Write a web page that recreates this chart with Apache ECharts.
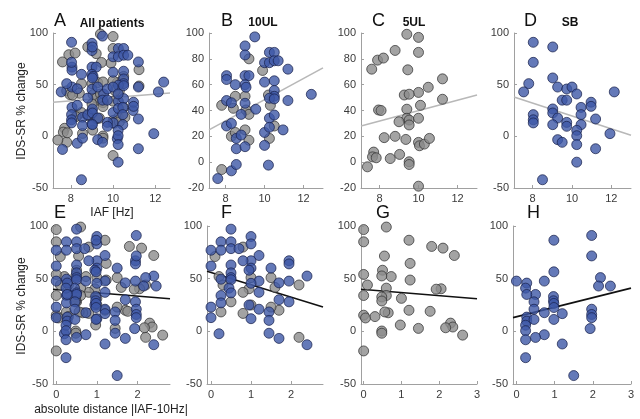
<!DOCTYPE html>
<html>
<head>
<meta charset="utf-8">
<script src="https://cdn.jsdelivr.net/npm/echarts@6/dist/echarts.min.js"></script>
<style>html,body{margin:0;padding:0;background:#fff}#c{width:640px;height:419px}</style>
</head>
<body>
<div id="c"></div>
<script>
// ---- data (IAF in Hz, IDS-SR % change) ----
const tenULBlue = [
  [9.5,97],[9.0,90],[9.0,83],[10.25,85],[10.5,85],[10.0,77],[10.25,77],[10.5,78.5],[10.7,78.5],[11.2,72],
  [8.05,67],[8.05,64],[9.0,67],[9.2,67],[8.5,60],[9.0,60],[9.05,58],[10.0,62],[10.5,63],[10.5,55.5],
  [10.5,51],[10.25,49.5],[10.5,49],[11.2,47.7],[12.4,52.5],[8.05,47.7],[8.3,46],[9.0,45.6],[9.55,41],[8.8,37],
  [10.25,34],[10.5,36.5],[8.05,28],[8.3,30],[8.55,18.4],[8.8,21],[8.55,10.4],[9.0,12],[10.0,23],[10.25,27],
  [10.95,25],[10.0,13],[8.3,-6.7],[8.55,-1.8],[10.2,-2.3],[7.6,-12.7]
];
const tenULGray = [
  [9.2,80],[9.9,71],[10.2,52],[7.8,44],[8.5,51],[8.4,41.7],[9.0,51],[9.05,40.4],[9.2,37],[10.3,44],
  [8.3,20],[8.5,23],[9.0,25],[9.2,17],[10.5,28],[10.25,18.4],[7.8,-5.7]
];
const fiveULGray = [
  [9.4,99],[10.0,96.6],[8.8,86.5],[10.0,85],[7.6,72],[7.9,79],[8.2,80.6],[9.45,71.5],[11.23,64.5],[10.5,58],
  [10.0,54],[9.27,52],[9.52,52.6],[11.23,48.7],[7.95,40.4],[8.08,40],[10.1,44],[9.4,41],[9.4,34],[9.52,32.6],
  [9.0,31.3],[9.52,28.8],[10.0,34],[8.24,19],[8.8,20],[9.35,17.6],[10.0,15.3],[10.05,12.7],[10.3,14],[10.56,18.4],
  [7.7,7.8],[7.64,4.1],[7.83,3.4],[8.55,2.8],[9.03,6],[9.52,0.3],[9.52,-1.8],[7.38,-3.6],[10.0,-18.6]
];
const sbBlue = [
  [8.03,91],[9.02,86.5],[8.03,71.6],[7.8,51],[7.54,43],[9.02,56.5],[9.27,47.7],[9.73,45.8],[10.0,47.7],[10.24,41],
  [12.15,43],[9.5,35],[9.73,35],[10.97,33],[10.97,29],[10.46,28],[9.02,26.5],[9.02,22.6],[8.03,21],[8.03,16],
  [8.03,13],[9.27,17.7],[10.46,21],[11.2,16.8],[9.73,13.5],[9.73,9.7],[9.02,11.3],[10.46,11.3],[10.24,5.8],[10.24,0.6],
  [11.93,2.6],[9.27,-3.2],[9.5,-5.8],[10.24,-8],[11.2,-12],[10.24,-25],[8.5,-42]
];
// regression lines (endpoints)
const trendA = [[7.15,33],[12.7,42]];
const trendB = [[7.15,25],[13,73]];
const trendC = [[7.05,28],[13,52]];
const trendD = [[7.05,38],[13,1]];
const trendE = [[-0.08,40],[2.8,31]];
const trendF = [[-0.1,57],[2.8,23]];
const trendG = [[-0.07,40],[3,31]];
const trendH = [[-0.09,13],[3,41]];
// tick labels
const iafTicks = [8,10,12];
const distTicksShort = [0,1,2];
const distTicksLong = [0,1,2,3];
const letters = ['A','B','C','D','E','F','G','H'];
const groupTitles = ['All patients','10UL','5UL','SB'];

// bottom row: absolute distance |IAF - 10 Hz| of the same patients
const dist = arr => arr.map(p => [Math.abs(p[0] - 10), p[1]]);

const BLUE = {color:'#3d58a6', borderColor:'#18204a', borderWidth:0.9};
const GRAY = {color:'#8c8c8c', borderColor:'#2e2e2e', borderWidth:0.9};

const panels = [
  {g:{left:53, top:33, width:117, height:155}, xmin:7.15, xmax:12.7, ymin:-50, ymax:100, yint:50, ticks:iafTicks,
   gray:[...tenULGray, ...fiveULGray], blue:[...tenULBlue, ...sbBlue], trend:trendA, lc:'#b8b8b8'},
  {g:{left:209, top:33, width:114, height:155}, xmin:7.15, xmax:13, ymin:-20, ymax:100, yint:20, ticks:iafTicks,
   gray:tenULGray, blue:tenULBlue, trend:trendB, lc:'#b8b8b8'},
  {g:{left:361, top:33, width:116, height:155}, xmin:7.05, xmax:13, ymin:-20, ymax:100, yint:20, ticks:iafTicks,
   gray:fiveULGray, blue:[], trend:trendC, lc:'#b8b8b8'},
  {g:{left:514, top:33, width:117, height:155}, xmin:7.05, xmax:13, ymin:-50, ymax:100, yint:50, ticks:iafTicks,
   gray:[], blue:sbBlue, trend:trendD, lc:'#b8b8b8'},
  {g:{left:53, top:226, width:117, height:158}, xmin:-0.08, xmax:2.8, ymin:-50, ymax:100, yint:50, ticks:distTicksShort,
   gray:dist([...tenULGray, ...fiveULGray]), blue:dist([...tenULBlue, ...sbBlue]), trend:trendE, lc:'#111'},
  {g:{left:207, top:226, width:116, height:158}, xmin:-0.1, xmax:2.8, ymin:-50, ymax:100, yint:50, ticks:distTicksShort,
   gray:dist(tenULGray), blue:dist(tenULBlue), trend:trendF, lc:'#111'},
  {g:{left:361, top:226, width:116, height:158}, xmin:-0.07, xmax:3, ymin:-50, ymax:100, yint:50, ticks:distTicksLong,
   gray:dist(fiveULGray), blue:[], trend:trendG, lc:'#111'},
  {g:{left:513, top:226, width:118, height:158}, xmin:-0.09, xmax:3, ymin:-50, ymax:100, yint:50, ticks:distTicksLong,
   gray:[], blue:dist(sbBlue), trend:trendH, lc:'#111'}
];

const FONT = 'Liberation Sans, Arial, Helvetica, sans-serif';
const axisColor = '#a0a0a0';
const grid = [], xAxis = [], yAxis = [], series = [];
panels.forEach((p, i) => {
  grid.push(Object.assign({containLabel:false}, p.g));
  xAxis.push({
    gridIndex:i, type:'value', min:p.xmin, max:p.xmax,
    axisLine:{onZero:false, lineStyle:{color:axisColor, width:1}},
    axisTick:{customValues:p.ticks, inside:true, length:3, lineStyle:{color:axisColor}},
    axisLabel:{customValues:p.ticks, color:'#3a3a3a', fontSize:11, fontFamily:FONT, margin:5},
    splitLine:{show:false}
  });
  yAxis.push({
    gridIndex:i, type:'value', min:p.ymin, max:p.ymax, interval:p.yint,
    axisLine:{show:true, onZero:false, lineStyle:{color:axisColor, width:1}},
    axisTick:{show:true, inside:true, length:3, lineStyle:{color:axisColor}},
    axisLabel:{color:'#3a3a3a', fontSize:11, fontFamily:FONT, margin:5},
    splitLine:{show:false}
  });
  series.push({type:'line', xAxisIndex:i, yAxisIndex:i, data:p.trend, symbol:'none', silent:true,
    lineStyle:{color:p.lc, width:1.6}, z:1});
  if (p.gray.length) series.push({type:'scatter', xAxisIndex:i, yAxisIndex:i, data:p.gray,
    symbol:'circle', symbolSize:10, itemStyle:GRAY, z:2});
  if (p.blue.length) series.push({type:'scatter', xAxisIndex:i, yAxisIndex:i, data:p.blue,
    symbol:'circle', symbolSize:10, itemStyle:BLUE, z:3});
});

const graphic = [];
const letterPos = [[54,21],[221,21],[372,21],[524,21],[54,213],[221,213],[376,213],[527,213]];
letters.forEach((L, i) => graphic.push({type:'text', x:letterPos[i][0], y:letterPos[i][1],
  style:{text:L, font:'normal 18px ' + FONT, fill:'#111', textAlign:'left', textVerticalAlign:'middle'}}));
const titlePos = [[112,24],[263,23],[414,23],[570,23]];
groupTitles.forEach((t, i) => graphic.push({type:'text', x:titlePos[i][0], y:titlePos[i][1],
  style:{text:t, font:'bold 12px ' + FONT, fill:'#111', textAlign:'center', textVerticalAlign:'middle'}}));
graphic.push({type:'text', x:112, y:213, style:{text:'IAF [Hz]', font:'12px ' + FONT, fill:'#222', textAlign:'center', textVerticalAlign:'middle'}});
graphic.push({type:'text', x:111, y:410, style:{text:'absolute distance |IAF-10Hz|', font:'12px ' + FONT, fill:'#222', textAlign:'center', textVerticalAlign:'middle'}});
graphic.push({type:'text', x:22, y:111, rotation:Math.PI/2, style:{text:'IDS-SR % change', font:'12px ' + FONT, fill:'#222', textAlign:'center', textVerticalAlign:'middle'}});
graphic.push({type:'text', x:22, y:306, rotation:Math.PI/2, style:{text:'IDS-SR % change', font:'12px ' + FONT, fill:'#222', textAlign:'center', textVerticalAlign:'middle'}});

const chart = echarts.init(document.getElementById('c'), null, {renderer:'canvas'});
chart.setOption({animation:false, backgroundColor:'#fff', grid, xAxis, yAxis, series, graphic});
</script>
</body>
</html>
